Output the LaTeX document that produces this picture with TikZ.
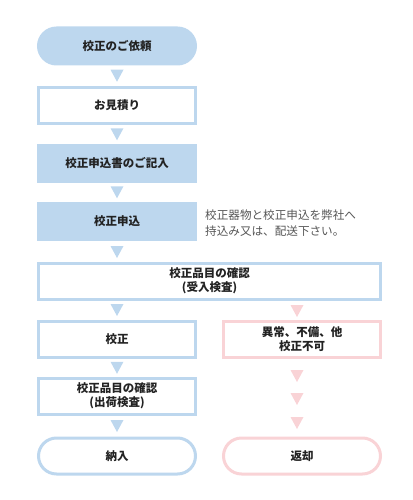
\documentclass[tikz,border=0pt]{standalone}
\usepackage{fontspec}
\setmainfont{Noto Sans CJK JP}
\usetikzlibrary{calc}
\definecolor{bl}{HTML}{BDD7EE}
\definecolor{pk}{HTML}{F9D3D6}
\definecolor{txt}{HTML}{222222}
\definecolor{note}{HTML}{555555}
\tikzset{
  box/.style={draw=bl, line width=3pt, fill=white, minimum width=157pt, minimum height=36pt,
    inner sep=0pt, align=center, font=\fontsize{11.5}{14}\selectfont\bfseries, text=txt},
  fillbox/.style={box, fill=bl},
  pinkbox/.style={box, draw=pk},
  stadium/.style={rounded corners=18pt},
  tri/.pic={\fill[#1] (-6.5,-6) -- (6.5,-6) -- (0,6) -- cycle;}
}
\begin{document}
\begin{tikzpicture}[x=1pt,y=-1pt]
\useasboundingbox (0,0) rectangle (412,500);
\node[fillbox,stadium] (n1) at (117,46) {校正のご依頼};
\node[box] (n2) at (117,105.5) {お見積り};
\node[fillbox] (n3) at (117,163) {校正申込書のご記入};
\node[fillbox] (n4) at (117,221.5) {校正申込};
\node[box, minimum width=342pt] (n5) at (209.5,281) {校正品目の確認\\(受入検査)};
\node[box] (n6) at (117,339.5) {校正};
\node[pinkbox] (n6r) at (302,339.5) {異常、不備、他\\校正不可};
\node[box] (n7) at (117,396) {校正品目の確認\\(出荷検査)};
\node[box,stadium] (n8) at (117,456) {納入};
\node[pinkbox,stadium] (n8r) at (302,456) {返却};
\node[anchor=west, align=left, text=note, font=\fontsize{11.6}{16}\selectfont, inner sep=0pt] (note) at (205,223) {校正器物と校正申込を弊社へ\\持込み又は、配送下さい。};
\pic at ($(n1.south)!0.5!(n2.north)$) {tri=bl};
\pic at ($(n2.south)!0.5!(n3.north)$) {tri=bl};
\pic at ($(n3.south)!0.5!(n4.north)$) {tri=bl};
\pic at ($(n4.south)+(0,11)$) {tri=bl};
\pic at ($(n6.north)+(0,-10)$) {tri=bl};
\pic at ($(n6.south)!0.5!(n7.north)$) {tri=bl};
\pic at ($(n7.south)!0.5!(n8.north)$) {tri=bl};
\pic at (297,311) {tri=pk};
\pic at (297,376) {tri=pk};
\pic at (297,399) {tri=pk};
\pic at (297,423) {tri=pk};
\end{tikzpicture}
\end{document}
